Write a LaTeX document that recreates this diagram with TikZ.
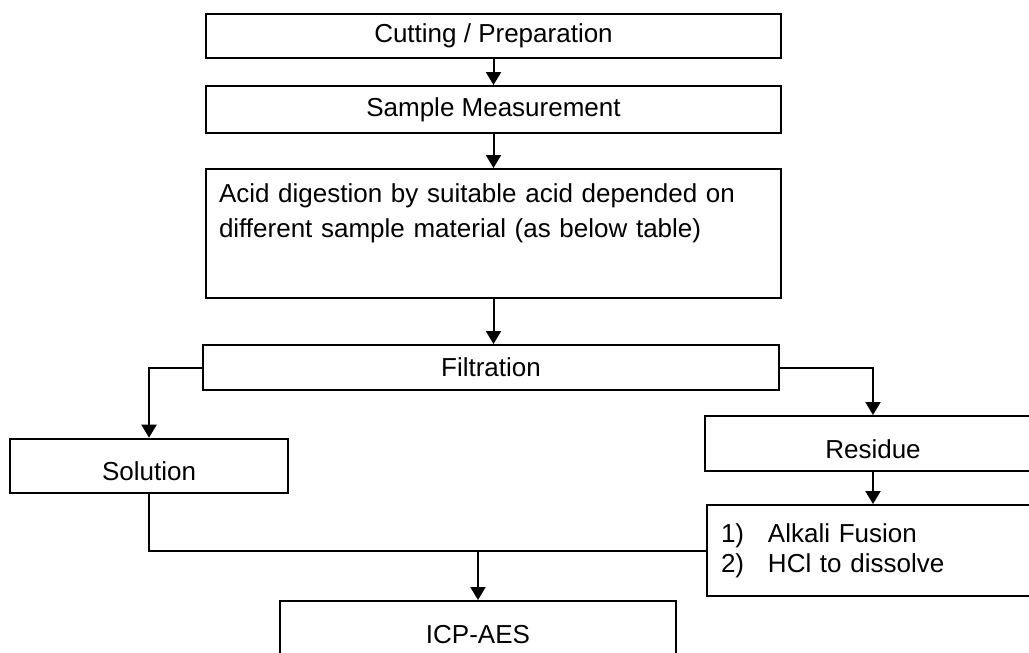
\documentclass[tikz,border=0pt]{standalone}
\usepackage{fontspec}
\setmainfont{Liberation Sans}
\usetikzlibrary{arrows.meta}

\begin{document}
\begin{tikzpicture}[x=0.75pt,y=0.75pt,yscale=-1,xscale=1,
  procbox/.style={draw, line width=1.5pt, rectangle, anchor=north west, inner sep=0pt, font=\fontsize{19.5}{26.25}\selectfont},
  lowtext/.style={text height=22.4pt, text depth=0pt},
  flow/.style={line width=1.5pt, -{Triangle[width=11.25pt,length=9.75pt]}},
  link/.style={line width=1.5pt}]
\useasboundingbox (0,0) rectangle (1029,653);
\clip (0,0) rectangle (1029,653);

%Shape: Rectangle [Cutting]
\node[procbox, minimum width=431.25pt, minimum height=33pt] (cut) at (205,12.7) {Cutting / Preparation};
%Shape: Rectangle [Measurement]
\node[procbox, minimum width=431.25pt, minimum height=35.25pt] (meas) at (205,85) {Sample Measurement};
%Shape: Rectangle [Digestion]
\node[procbox, minimum width=431.25pt, minimum height=96.75pt, text width=411.75pt, inner xsep=9.75pt, align=left] (acid) at (205,168) {Acid digestion by suitable acid depended on\\different sample material (as below table)\\\strut};
%Shape: Rectangle [Filtration]
\node[procbox, minimum width=432pt, minimum height=33.75pt] (filt) at (202,344) {Filtration};
%Shape: Rectangle [Solution]
\node[procbox, lowtext, minimum width=208.5pt, minimum height=40.7pt] (sol) at (9,437.7) {Solution};
%Shape: Rectangle [Residue]
\node[procbox, lowtext, minimum width=252pt, minimum height=41.25pt] (res) at (704,415) {Residue};
%Shape: Rectangle [Fusion]
\node[procbox, minimum width=250.5pt, minimum height=68.25pt, text width=229.5pt, inner xsep=10.5pt, align=left, font=\fontsize{19.5}{22.5}\selectfont] (alk) at (706,504) {\makebox[35.25pt][l]{1)}Alkali Fusion\\\makebox[35.25pt][l]{2)}HCl to dissolve};
%Shape: Rectangle [ICP]
\node[procbox, minimum width=297pt, minimum height=50.25pt] (icp) at (279,600) {ICP-AES};

%Straight Lines
\draw[flow] (cut) -- (meas);
\draw[flow] (meas) -- (acid);
\draw[flow] (acid.south) -- (acid.south |- filt.north);
\draw[flow] (filt.west) -| (sol.north);
\draw[flow] (filt.east) -| (res.north);
\draw[flow] (res.south) -- (res.south |- alk.north);
\draw[link] (sol.south) |- (alk.west);
\coordinate (merge) at (icp.north |- alk.west);
\draw[flow] (merge) -- (icp.north);
\end{tikzpicture}
\end{document}
